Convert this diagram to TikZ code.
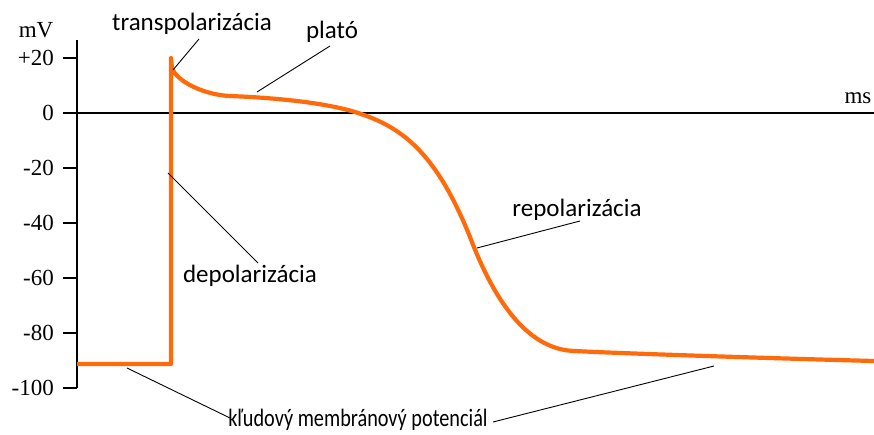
\documentclass[tikz,border=0pt]{standalone}
\usepackage{fontspec}
\setmainfont{Liberation Serif}
\newfontfamily\annfont{Carlito}
\newfontfamily\annfontnarrow[FakeStretch=0.81]{Carlito}
\definecolor{apcol}{HTML}{FF6A0A}
\begin{document}
\begin{tikzpicture}[x=1pt,y=-1pt,
  axislbl/.style={font=\fontsize{23}{26}\selectfont, inner sep=0pt},
  ticklbl/.style={axislbl, anchor=east},
  annlbl/.style={font=\annfont\fontsize{25}{28}\selectfont, inner sep=0pt},
  annlblnarrow/.style={font=\annfontnarrow\fontsize{25}{28}\selectfont, inner sep=0pt},
  leader/.style={black, line width=0.9pt},
  axisline/.style={black, line width=1.8pt},
  apcurve/.style={apcol, line width=4.2pt, line join=round}]
\useasboundingbox (0,0) rectangle (874,435);
% axes
\coordinate (ytop) at (77,40);
\coordinate (ybot) at (77,388);
\draw[axisline] (ytop) -- (ybot);
\coordinate (x0) at (63,113);
\coordinate (xend) at (874,113);
\draw[axisline] (x0) -- (xend);
\foreach \v/\lab [count=\i] in {20/+20,0/0,-20/-20,-40/-40,-60/-60,-80/-80,-100/-100}{
  \pgfmathsetmacro{\yy}{113-\v*2.75}
  \coordinate (tk\i) at (63,\yy);
  \coordinate (ta\i) at (77,\yy);
  \draw[axisline] (tk\i) -- (ta\i);
  \node[ticklbl] (tl\i) at (54,\yy) {\lab};
}
\node[axislbl] (mv) at (36,30) {mV};
\node[axislbl] (ms) at (858,98) {ms};
% action potential
\draw[apcurve] (77,364) -- (171,364) -- (171,58) -- (172,68)
  .. controls (177,82) and (205,95) .. (230,96)
  .. controls (280,98) and (325,103) .. (355,112)
  .. controls (400,126) and (435,150) .. (470,237)
  .. controls (492,295) and (525,350) .. (575,351)
  .. controls (610,353) and (760,358) .. (874,361);
% curve points for leaders
\coordinate (ptrans) at (173,70);
\coordinate (pplat) at (257,92);
\coordinate (pdep) at (168,173);
\coordinate (prep) at (477,248);
\coordinate (prest1) at (127,368);
\coordinate (prest2) at (714,366);
% labels
\node[annlbl] (trans) at (192,24) {transpolarizácia};
\node[annlbl] (plat) at (332,32) {plató};
\node[annlbl] (dep) at (250,276) {depolarizácia};
\node[annlbl] (rep) at (577,210) {repolarizácia};
\node[annlblnarrow] (rest) at (358,420) {kľudový membránový potenciál};
% leader ends near labels
\coordinate (etrans) at (199,39);
\coordinate (eplat) at (330,46);
\coordinate (edep) at (258,263);
\coordinate (erep) at (580,221);
\coordinate (erest1) at (230,418);
\coordinate (erest2) at (493,422);
\draw[leader] (ptrans) -- (etrans);
\draw[leader] (pplat) -- (eplat);
\draw[leader] (pdep) -- (edep);
\draw[leader] (prep) -- (erep);
\draw[leader] (prest1) -- (erest1);
\draw[leader] (prest2) -- (erest2);
\end{tikzpicture}
\end{document}
